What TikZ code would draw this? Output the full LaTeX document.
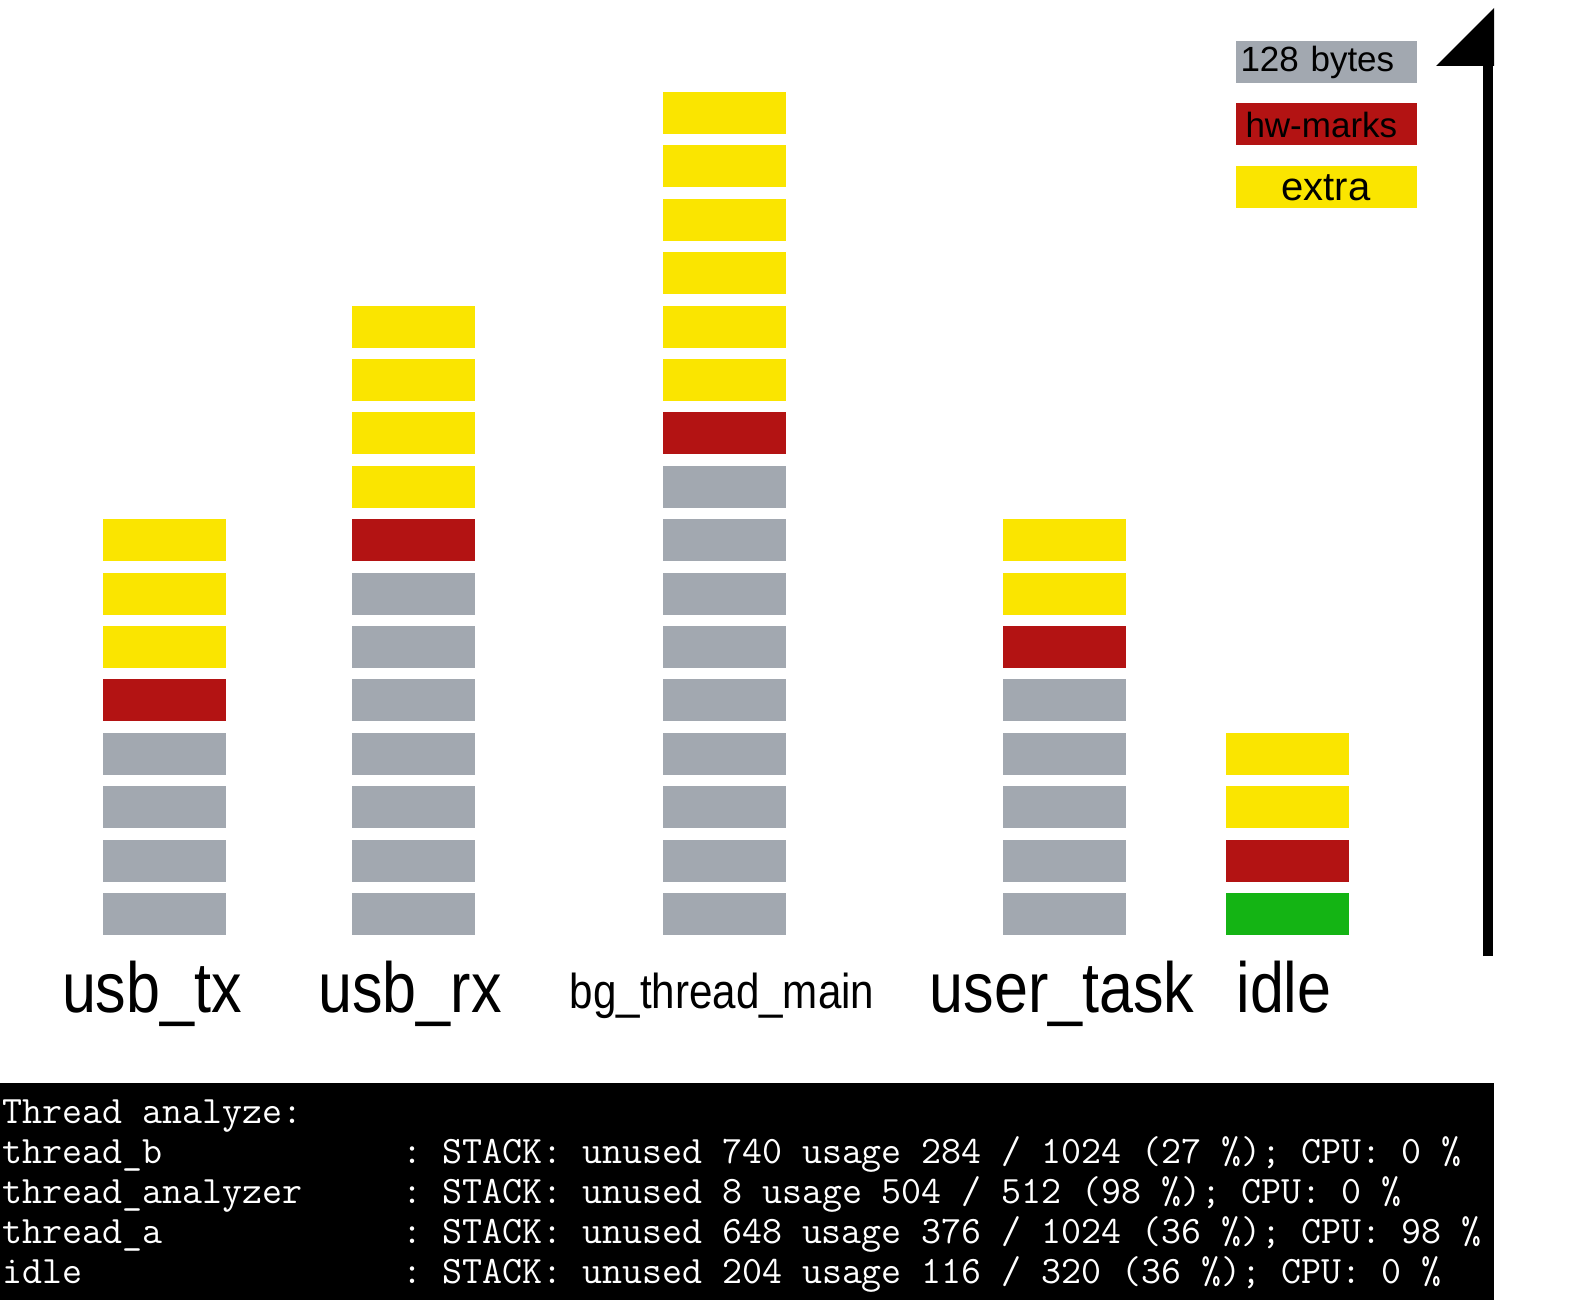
\documentclass[tikz,border=0pt]{standalone}
\usepackage{fontspec}
\setmainfont{Liberation Sans}
\newfontfamily\namefont[FakeStretch=0.86]{Liberation Sans}
\definecolor{sgray}{HTML}{A2A8B0}
\definecolor{sred}{HTML}{B31313}
\definecolor{syellow}{HTML}{FAE500}
\definecolor{sgreen}{HTML}{14B414}
\tikzset{
  threadname/.style = {anchor = base, inner sep = 0pt,
    font = \namefont\fontsize{35.5pt}{40pt}\selectfont},
  legendbox/.style = {minimum width = 90.5pt, minimum height = 21pt,
    inner xsep = 2.5pt, inner ysep = 0pt, text width = 85.5pt,
    font = \fontsize{17.5pt}{20pt}\selectfont},
  termline/.style = {anchor = base west, inner sep = 0pt, text = white,
    font = \ttfamily\frenchspacing\fontsize{19.4pt}{22pt}\selectfont}
}
\begin{document}
\begin{tikzpicture}[x = .5pt, y = -.5pt]
  \useasboundingbox (0,0) rectangle (1570,1300);
  \foreach \cx/\stack in {
      164/{sgray,sgray,sgray,sgray,sred,syellow,syellow,syellow},
      413/{sgray,sgray,sgray,sgray,sgray,sgray,sgray,sred,syellow,syellow,syellow,syellow},
      724/{sgray,sgray,sgray,sgray,sgray,sgray,sgray,sgray,sgray,sred,syellow,syellow,syellow,syellow,syellow,syellow},
      1064/{sgray,sgray,sgray,sgray,sgray,sred,syellow,syellow},
      1287/{sgreen,sred,syellow,syellow}}
    \foreach \c [count = \i from 0] in \stack
      \fill [\c] (\cx-61.5, 893-53.4*\i) rectangle ++(123,42);
  \node [threadname] (usbtx) at (152,1012) {usb\_tx};
  \node [threadname] (usbrx) at (410,1012) {usb\_rx};
  \node [threadname, font = \namefont\fontsize{24.5pt}{28pt}\selectfont]
    (bgmain) at (722,1008) {bg\_thread\_main};
  \node [threadname] (usertask) at (1062,1012) {user\_task};
  \node [threadname] (idle) at (1284,1012) {idle};
  \node [legendbox, fill = sgray, align = left] (bytes) at (1326,62) {128 bytes};
  \node [legendbox, fill = sred, align = left] (hwmarks) at (1326,124.5) {\hspace{2.5pt}hw-marks};
  \node [legendbox, fill = syellow, align = center, font = \fontsize{20pt}{22pt}\selectfont]
    (extra) at (1326,187.5) {extra};
  \coordinate (axisbot) at (1488,956);
  \coordinate (axistop) at (1488,66);
  \draw [line width = 5pt] (axisbot) -- (axistop);
  \fill (1436,66) -- (1494,66) -- (1494,8) -- cycle;
  \fill (0,1083) rectangle (1494,1300);
  \node [termline] (head) at (2,1123) {Thread analyze:};
  \foreach \name/\info [count = \k] in {
      thread\_b/{: STACK: unused 740 usage 284 / 1024 (27 \%); CPU: 0 \%},
      thread\_analyzer/{: STACK: unused 8 usage 504 / 512 (98 \%); CPU: 0 \%},
      thread\_a/{: STACK: unused 648 usage 376 / 1024 (36 \%); CPU: 98 \%},
      idle/{: STACK: unused 204 usage 116 / 320 (36 \%); CPU: 0 \%}} {
    \node [termline] (name\k) at (2,1123+40*\k) {\name};
    \node [termline] (info\k) at (402,1123+40*\k) {\info};
  }
\end{tikzpicture}
\end{document}
